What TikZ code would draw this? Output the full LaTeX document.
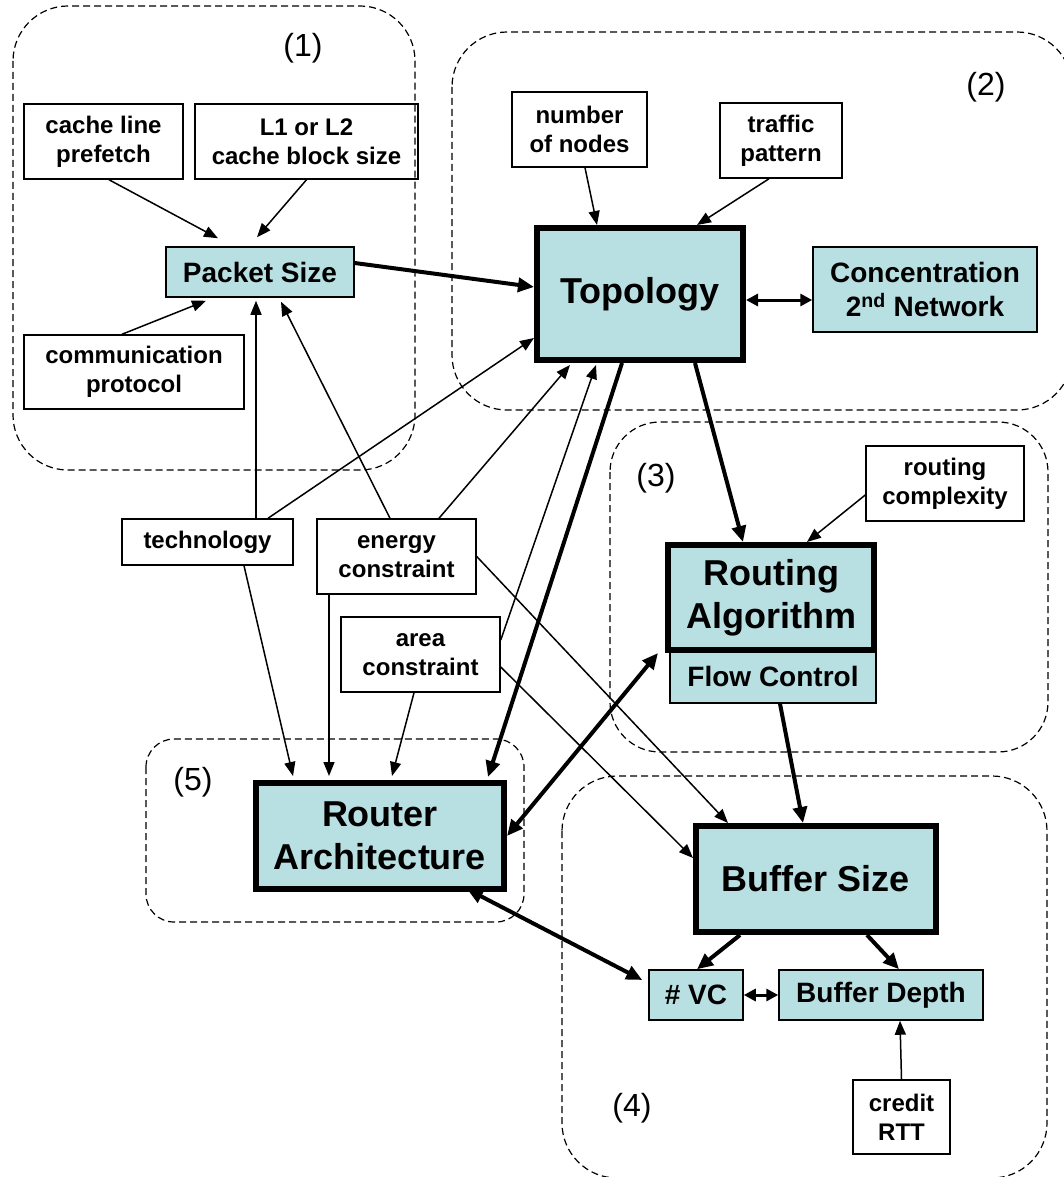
\documentclass[tikz,border=0pt]{standalone}
\usepackage{fontspec}
\setmainfont{Liberation Sans}
\usetikzlibrary{arrows.meta}
\definecolor{boxfill}{HTML}{B8DFE2}
\newcommand\myS{\fontsize{24}{28.8}\selectfont\bfseries}
\newcommand\myM{\fontsize{28}{33.6}\selectfont\bfseries}
\newcommand\myL{\fontsize{36}{43.2}\selectfont\bfseries}
\newcommand\myR{\fontsize{32}{38}\selectfont}
\begin{document}
\begin{tikzpicture}[x=1pt,y=-1pt,
  region/.style={draw, dash pattern=on 7pt off 4pt, line width=1.2pt, rounded corners=55pt},
  lbl/.style={font=\myR, inner sep=0pt},
  factor/.style={draw, line width=1.5pt, fill=white, inner sep=0pt, align=center, font=\myS},
  param/.style={draw, line width=1.5pt, fill=boxfill, inner sep=0pt, align=center, font=\myM},
  keybox/.style={draw, line width=6pt, fill=boxfill, inner sep=0pt, align=center, font=\myL},
  arr/.style={line width=1.5pt, -{Triangle[length=14pt,width=11pt]}},
  barr/.style={line width=4pt, -{Triangle[length=16pt,width=14pt]}},
  dbarr/.style={line width=4pt, {Triangle[length=16pt,width=14pt]}-{Triangle[length=16pt,width=14pt]}},
  darr/.style={line width=3pt, {Triangle[length=12pt,width=12pt]}-{Triangle[length=12pt,width=12pt]}}
]
\useasboundingbox (0,0) rectangle (1064,1177);
\clip (0,0) rectangle (1064,1177);

% factor boxes
\node[factor, minimum width=159pt, minimum height=75pt] (cache) at (103.5,141.5) {cache line\\prefetch};
\node[factor, minimum width=223pt, minimum height=75pt] (l1l2) at (306.5,141.5) {L1 or L2\\cache block size};
\node[factor, minimum width=220pt, minimum height=74pt] (comm) at (134,372) {communication\\protocol};
\node[factor, minimum width=135pt, minimum height=75pt] (nodes) at (579.5,129.5) {number\\of nodes};
\node[factor, minimum width=122pt, minimum height=75pt] (traffic) at (781,140.5) {traffic\\pattern};
\node[factor, minimum width=158pt, minimum height=75pt] (rcomp) at (945,483.5) {routing\\complexity};
\node[factor, minimum width=171pt, minimum height=46pt] (tech) at (207.5,542) {technology};
\node[factor, minimum width=159pt, minimum height=75pt] (energy) at (396.5,556.5) {energy\\constraint};
\node[factor, minimum width=159pt, minimum height=75pt] (area) at (420.5,654.5) {area\\constraint};
\node[factor, minimum width=97pt, minimum height=74pt] (credit) at (901.5,1117) {credit\\RTT};

% parameter boxes
\node[param, minimum width=188pt, minimum height=50pt] (packet) at (260,272) {Packet Size};
\node[param, minimum width=224pt, minimum height=85pt] (conc) at (925,289.5) {Concentration\\2\textsuperscript{nd} Network};
\node[param, minimum width=206pt, minimum height=53pt] (flow) at (773,676.5) {Flow Control};
\node[param, minimum width=94pt, minimum height=50pt] (vc) at (696,995) {\# VC};
\node[param, minimum width=204pt, minimum height=50pt] (depth) at (881,995) {Buffer Depth};

% key boxes
\node[keybox, minimum width=206pt, minimum height=132pt] (topo) at (640,294) {Topology};
\node[keybox, minimum width=206pt, minimum height=105pt] (route) at (771,597.5) {Routing\\Algorithm};
\node[keybox, minimum width=248pt, minimum height=106pt] (router) at (380,836) {Router\\Architecture};
\node[keybox, minimum width=240pt, minimum height=106pt] (buffer) at (816,879) {Buffer Size};

% regions (dashed, drawn over the boxes as in the reference)
\draw[region] (13,6) rectangle (415,470);
\draw[region] (452,32) rectangle (1072,410);
\draw[region, rounded corners=50pt] (610,422) rectangle (1048,752);
\draw[region] (562,776) rectangle (1047,1178);
\draw[region, rounded corners=28pt] (146,739) rectangle (524,922);

\node[lbl] (l1) at (303,48) {(1)};
\node[lbl] (l2) at (986,87) {(2)};
\node[lbl] (l3) at (656,478) {(3)};
\node[lbl] (l4) at (632,1108) {(4)};
\node[lbl] (l5) at (193,782) {(5)};

% connectors into Packet Size
\draw[arr] ([xshift=5.5pt]cache.south) -- ([xshift=-42pt,yshift=8pt]packet.north);
\draw[arr] (l1l2.south) -- ([xshift=-3pt,yshift=9pt]packet.north);
\draw[arr] ([xshift=-12pt]comm.north) -- ([xshift=-54pt,yshift=-3pt]packet.south);
\draw[arr] ([xshift=48.5pt]tech.north) -- ([xshift=-4pt,yshift=-3pt]packet.south);
\draw[arr] ([xshift=-6.5pt]energy.north) -- ([xshift=21pt,yshift=-4pt]packet.south);

% connectors into Topology
\draw[barr] ([yshift=9pt]packet.east) -- ([yshift=7pt]topo.west);
\draw[arr] ([xshift=60.5pt]tech.north) -- ([yshift=-44pt]topo.west);
\draw[arr] ([xshift=42.5pt]energy.north) -- ([xshift=-70pt,yshift=-2pt]topo.south);
\draw[arr] ([yshift=14.5pt]area.east) -- ([xshift=-44pt,yshift=-2pt]topo.south);
\draw[arr] ([xshift=5.5pt]nodes.south) -- ([xshift=-43pt]topo.north);
\draw[arr] ([xshift=-12pt]traffic.south) -- ([xshift=57pt]topo.north);
\draw[darr] ([yshift=-6pt]topo.east) -- ([yshift=-10.5pt]conc.west);

% from Topology
\draw[barr] ([xshift=55pt]topo.south) -- ([xshift=-28pt]route.north);
\draw[barr] ([xshift=-18pt]topo.south) -- ([xshift=108pt,yshift=3pt]router.north);

% routing
\draw[arr] ([yshift=-11.5pt]rcomp.west) -- ([xshift=36pt]route.north);
\draw[dbarr] ([xshift=-7pt]route.south west) -- (router.east);
\draw[barr] ([xshift=7pt]flow.south) -- ([xshift=-13pt]buffer.north);

% into Buffer Size
\draw[arr] (energy.east) -- ([xshift=-88pt]buffer.north);
\draw[arr] ([yshift=-12.5pt]area.east) -- ([yshift=21pt]buffer.west);

% into Router Architecture
\draw[arr] ([xshift=36.5pt]tech.south) -- ([xshift=-87pt,yshift=4pt]router.north);
\draw[arr] ([xshift=-67.5pt]energy.south) -- ([xshift=-51pt,yshift=4pt]router.north);
\draw[arr] ([xshift=-6.5pt]area.south) -- ([xshift=12pt,yshift=4pt]router.north);
\draw[dbarr] ([xshift=87pt,yshift=3pt]router.south) -- ([xshift=-6pt,yshift=15pt]vc.west);

% buffer
\draw[barr] ([xshift=-76pt]buffer.south) -- ([xshift=1pt]vc.north);
\draw[barr] ([xshift=51pt]buffer.south) -- ([xshift=18pt]depth.north);
\draw[darr] (vc.east) -- (depth.west);
\draw[arr] (credit.north) -- ([xshift=19pt]depth.south);
\end{tikzpicture}
\end{document}
